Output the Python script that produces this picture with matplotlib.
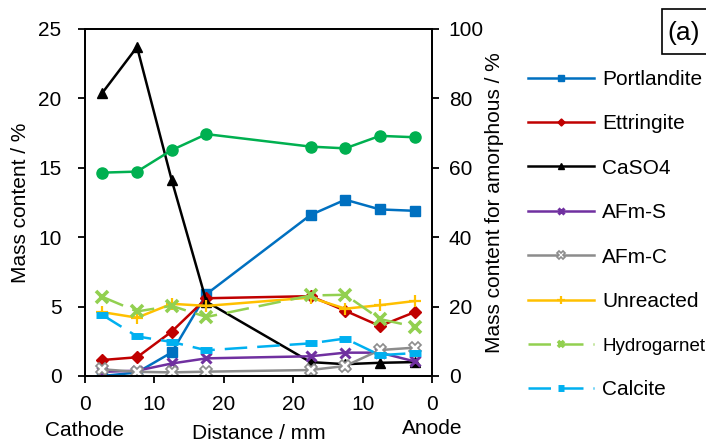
import matplotlib
matplotlib.use("Agg")
import matplotlib.pyplot as plt
from matplotlib.patches import Rectangle

plt.rcParams["font.family"] = ["Liberation Sans", "DejaVu Sans"]
plt.rcParams["font.size"] = 15

# distance positions (cathode side 0-20, anode side 20-0 shown on one 0-50 axis)
x = [2.5, 7.5, 12.5, 17.5, 32.5, 37.5, 42.5, 47.5]
xtick_pos = [0, 10, 20, 30, 40, 50]
xtick_labels = ["0", "10", "20", "20", "10", "0"]

portlandite = [0.0, 0.25, 1.7, 5.9, 11.6, 12.7, 12.0, 11.9]
ettringite = [1.15, 1.35, 3.2, 5.6, 5.75, 4.7, 3.6, 4.6]
caso4 = [20.4, 23.7, 14.1, 5.35, 1.0, 0.85, 0.95, 1.0]
afm_s = [0.3, 0.38, 0.9, 1.27, 1.42, 1.68, 1.68, 1.05]
afm_c = [0.48, 0.3, 0.26, 0.31, 0.43, 0.72, 1.87, 2.04]
unreacted = [4.6, 4.2, 5.2, 5.05, 5.65, 4.85, 5.1, 5.4]
hydrogarnet = [5.7, 4.65, 5.05, 4.25, 5.8, 5.85, 4.1, 3.55]
calcite = [4.4, 2.85, 2.45, 1.85, 2.35, 2.7, 1.5, 1.65]
amorphous = [58.6, 58.9, 65.1, 69.7, 66.1, 65.6, 69.2, 68.8]

fig = plt.figure(figsize=(7.06, 4.46), dpi=100)
ax = fig.add_axes([0.1204, 0.157, 0.4915, 0.778])
ax2 = ax.twinx()

lw = 1.8
ax.plot(x, portlandite, color="#0070C0", lw=lw, marker="s", ms=7, label="Portlandite")
ax.plot(x, ettringite, color="#C00000", lw=lw, marker="D", ms=6, label="Ettringite")
ax.plot(x, caso4, color="black", lw=lw, marker="^", ms=7, label="CaSO4")
ax.plot(x, afm_s, color="#7030A0", lw=lw, marker="x", ms=7, mew=2.2, label="AFm-S")
ax.plot(x, afm_c, color="#8C8C8C", lw=lw, marker="X", ms=9, mfc="white",
        mec="#8C8C8C", mew=1.2, label="AFm-C")
ax.plot(x, unreacted, color="#FFC000", lw=lw, marker="+", ms=9, mew=1.6, label="Unreacted")
ax.plot(x, hydrogarnet, color="#92D050", lw=lw, ls=(0, (9, 4)), marker="x",
        ms=8, mew=2.6, label="Hydrogarnet")
ax.plot(x, calcite, color="#00B0F0", lw=lw, ls=(0, (9, 4)), marker="_", ms=8,
        mew=5, label="Calcite")

ax2.plot(x, amorphous, color="#00B050", lw=lw, marker="o", ms=8)

ax.set_xlim(0, 50)
ax.set_ylim(0, 25)
ax.set_yticks([0, 5, 10, 15, 20, 25])
ax.set_xticks(xtick_pos)
ax.set_xticklabels(xtick_labels)
ax2.set_ylim(0, 100)
ax2.set_yticks([0, 20, 40, 60, 80, 100])

for a in (ax, ax2):
    a.tick_params(direction="out", length=5, width=1.3, colors="black")
    for s in a.spines.values():
        s.set_linewidth(1.3)
ax.tick_params(axis="y", pad=12)
ax.tick_params(axis="x", pad=9)
ax2.tick_params(axis="y", pad=7)

ax.set_ylabel("Mass content / %", labelpad=6)
ax2.set_ylabel("Mass content for amorphous / %", labelpad=1)
ax.set_xlabel("Distance / mm", labelpad=7)

ax.text(0, -0.157, "Cathode", transform=ax.transAxes, ha="center", va="center")
ax.text(1, -0.15, "Anode", transform=ax.transAxes, ha="center", va="center")

handles, labels = ax.get_legend_handles_labels()
leg = fig.legend(handles, labels, loc="upper left", bbox_to_anchor=(0.7365, 0.862),
                 frameon=False, handlelength=3.15, labelspacing=1.22,
                 markerscale=0.6, borderaxespad=0, handletextpad=0.4)
for t in leg.get_texts():
    if t.get_text() == "Hydrogarnet":
        t.set_fontsize(13.5)

fig.patches.append(Rectangle((662 / 706, 1 - 54 / 446), 0.08, 45 / 446,
                             transform=fig.transFigure, fc="white", ec="black", lw=1.2))
fig.text(667 / 706, 1 - 33 / 446, "(a)", fontsize=19, ha="left", va="center")

fig.savefig("out.png", dpi=100)
